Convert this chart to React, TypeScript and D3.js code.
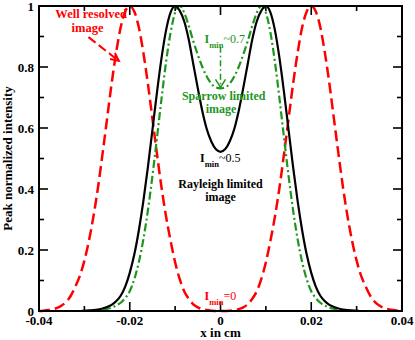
import React, { useRef, useEffect } from 'react';
import * as d3 from 'd3';

// x positions (cm) shared by the three curves
const xGrid = [
  -0.04, -0.039, -0.038, -0.037, -0.036, -0.035, -0.034, -0.033, -0.032, -0.031,
  -0.03, -0.029, -0.028, -0.027, -0.026, -0.025, -0.024, -0.023, -0.022, -0.021,
  -0.02, -0.019, -0.018, -0.017, -0.016, -0.015, -0.014, -0.013, -0.012, -0.011,
  -0.01, -0.009, -0.008, -0.007, -0.006, -0.005, -0.004, -0.003, -0.002, -0.001,
  0,
  0.001, 0.002, 0.003, 0.004, 0.005, 0.006, 0.007, 0.008, 0.009, 0.01,
  0.011, 0.012, 0.013, 0.014, 0.015, 0.016, 0.017, 0.018, 0.019, 0.02,
  0.021, 0.022, 0.023, 0.024, 0.025, 0.026, 0.027, 0.028, 0.029, 0.03,
  0.031, 0.032, 0.033, 0.034, 0.035, 0.036, 0.037, 0.038, 0.039, 0.04,
];

// well resolved (red dashed)
const wellResolved = [
  0, 0.001, 0.003, 0.006, 0.01, 0.018, 0.03, 0.05, 0.08, 0.115,
  0.165, 0.23, 0.31, 0.405, 0.515, 0.63, 0.745, 0.847, 0.93, 0.982,
  1, 0.982, 0.93, 0.847, 0.745, 0.63, 0.515, 0.405, 0.31, 0.23,
  0.16, 0.105, 0.065, 0.04, 0.022, 0.012, 0.006, 0.003, 0.001, 0,
  0,
  0, 0.001, 0.003, 0.006, 0.012, 0.022, 0.04, 0.065, 0.105, 0.16,
  0.23, 0.31, 0.405, 0.515, 0.63, 0.745, 0.847, 0.93, 0.982, 1,
  0.982, 0.93, 0.847, 0.745, 0.63, 0.515, 0.405, 0.31, 0.23, 0.165,
  0.115, 0.08, 0.05, 0.03, 0.018, 0.01, 0.006, 0.003, 0.001, 0,
];

// Rayleigh limited (black solid)
const rayleigh = [
  0, 0, 0, 0, 0, 0, 0, 0, 0, 0,
  0.001, 0.002, 0.003, 0.005, 0.008, 0.013, 0.02, 0.032, 0.05, 0.08,
  0.125, 0.185, 0.264, 0.36, 0.472, 0.594, 0.717, 0.829, 0.92, 0.979,
  1, 0.985, 0.95, 0.89, 0.81, 0.73, 0.655, 0.595, 0.555, 0.53,
  0.522,
  0.53, 0.555, 0.595, 0.655, 0.73, 0.81, 0.89, 0.95, 0.985, 1,
  0.979, 0.92, 0.829, 0.717, 0.594, 0.472, 0.36, 0.264, 0.185, 0.125,
  0.08, 0.05, 0.032, 0.02, 0.013, 0.008, 0.005, 0.003, 0.002, 0.001,
  0, 0, 0, 0, 0, 0, 0, 0, 0, 0,
];

// Sparrow limited (green dash-dot)
const sparrow = [
  0, 0, 0, 0, 0, 0, 0, 0, 0, 0,
  0, 0, 0.001, 0.002, 0.004, 0.007, 0.011, 0.018, 0.027, 0.042,
  0.065, 0.104, 0.16, 0.235, 0.33, 0.443, 0.568, 0.696, 0.816, 0.913,
  0.978, 1, 0.978, 0.935, 0.885, 0.84, 0.8, 0.768, 0.745, 0.733,
  0.73,
  0.733, 0.745, 0.768, 0.8, 0.84, 0.885, 0.935, 0.978, 1, 0.978,
  0.913, 0.816, 0.696, 0.568, 0.443, 0.33, 0.235, 0.16, 0.104, 0.065,
  0.042, 0.027, 0.018, 0.011, 0.007, 0.004, 0.002, 0.001, 0, 0,
  0, 0, 0, 0, 0, 0, 0, 0, 0, 0,
];

const xTicks = [-0.04, -0.02, 0, 0.02, 0.04];
const xTickLabels = ['-0.04', '-0.02', '0', '0.02', '0.04'];
const xMinor = [-0.03, -0.01, 0.01, 0.03];
const yTicks = [0, 0.2, 0.4, 0.6, 0.8, 1];
const yTickLabels = ['0', '0.2', '0.4', '0.6', '0.8', '1'];
const yMinor = [0.1, 0.3, 0.5, 0.7, 0.9];

const RED = '#ff0000';
const GREEN = '#1e961e';
const FONT = "'Liberation Serif', 'Times New Roman', Times, serif";

const App = () => {
  const svgRef = useRef(null);
  const width = 415, height = 340;
  const margin = { top: 6, right: 13, bottom: 29, left: 39 };

  useEffect(() => {
    const svg = d3.select(svgRef.current);
    svg.selectAll('*').remove();

    const x = d3.scaleLinear().domain([-0.04, 0.04]).range([margin.left, width - margin.right]);
    const y = d3.scaleLinear().domain([0, 1]).range([height - margin.bottom, margin.top]);

    const line = (vals) => d3.line()
      .x((d, i) => x(xGrid[i]))
      .y(d => y(d))
      .curve(d3.curveMonotoneX)(vals);

    // curves
    svg.append('path').attr('d', line(wellResolved)).attr('fill', 'none')
      .attr('stroke', RED).attr('stroke-width', 2.5).attr('stroke-dasharray', '11,5');
    svg.append('path').attr('d', line(sparrow)).attr('fill', 'none')
      .attr('stroke', GREEN).attr('stroke-width', 2.2).attr('stroke-dasharray', '8,3,2,3');
    svg.append('path').attr('d', line(rayleigh)).attr('fill', 'none')
      .attr('stroke', '#000').attr('stroke-width', 2.2);

    // frame + ticks
    const x0 = x(-0.04), x1 = x(0.04), y0 = y(0), y1 = y(1);
    const major = 9, minor = 5;
    const tk = svg.append('g').attr('stroke', '#000').attr('stroke-width', 1.6);
    xTicks.forEach(t => {
      tk.append('line').attr('x1', x(t)).attr('x2', x(t)).attr('y1', y0).attr('y2', y0 - major);
      tk.append('line').attr('x1', x(t)).attr('x2', x(t)).attr('y1', y1).attr('y2', y1 + major);
    });
    xMinor.forEach(t => {
      tk.append('line').attr('x1', x(t)).attr('x2', x(t)).attr('y1', y0).attr('y2', y0 - minor);
      tk.append('line').attr('x1', x(t)).attr('x2', x(t)).attr('y1', y1).attr('y2', y1 + minor);
    });
    yTicks.forEach(t => {
      tk.append('line').attr('x1', x0).attr('x2', x0 + major).attr('y1', y(t)).attr('y2', y(t));
      tk.append('line').attr('x1', x1).attr('x2', x1 - major).attr('y1', y(t)).attr('y2', y(t));
    });
    yMinor.forEach(t => {
      tk.append('line').attr('x1', x0).attr('x2', x0 + minor).attr('y1', y(t)).attr('y2', y(t));
      tk.append('line').attr('x1', x1).attr('x2', x1 - minor).attr('y1', y(t)).attr('y2', y(t));
    });
    svg.append('rect').attr('x', x0).attr('y', y1).attr('width', x1 - x0).attr('height', y0 - y1)
      .attr('fill', 'none').attr('stroke', '#000').attr('stroke-width', 2);

    // tick labels
    const lab = svg.append('g').style('font-family', FONT).style('font-weight', 'bold').style('font-size', '13px');
    xTicks.forEach((t, i) => {
      lab.append('text').attr('x', x(t)).attr('y', y0 + 13.5).attr('text-anchor', 'middle').text(xTickLabels[i]);
    });
    yTicks.forEach((t, i) => {
      lab.append('text').attr('x', x0 - 5).attr('y', y(t) + 4.5).attr('text-anchor', 'end').text(yTickLabels[i]);
    });
    lab.append('text').attr('x', x(0)).attr('y', 337).attr('text-anchor', 'middle').text('x in cm');
    lab.append('text').attr('transform', `translate(12,${(y0 + y1) / 2}) rotate(-90)`)
      .attr('text-anchor', 'middle').text('Peak normalized intensity');

    // annotations
    const ann = svg.append('g').style('font-family', FONT).style('font-weight', 'bold').style('font-size', '12px');
    const center = (txt, xv, yv, color, size = 12) =>
      ann.append('text').attr('x', x(xv)).attr('y', y(yv)).attr('text-anchor', 'middle')
        .attr('fill', color).style('font-size', `${size}px`).text(txt);
    center('Well resolved', -0.0285, 0.962, RED, 12.5);
    center('image', -0.0293, 0.915, RED, 12.5);
    center('Sparrow limited', 0.0007, 0.692, GREEN);
    center('image', 0.0001, 0.648, GREEN);
    center('Rayleigh limited', 0.0, 0.403, '#000');
    center('image', 0.0, 0.361, '#000');

    const imin = (xv, yv, rest, color) => {
      const t = ann.append('text').attr('x', x(xv)).attr('y', y(yv)).attr('fill', color);
      t.append('tspan').text('I');
      t.append('tspan').style('font-size', '8.5px').attr('dy', 5).text('min');
      t.append('tspan').style('font-weight', 'normal').attr('dy', -5).text(rest);
    };
    imin(-0.0035, 0.879, '~0.7', GREEN);
    imin(-0.0045, 0.489, '~0.5', '#000');
    imin(-0.0035, 0.036, '=0', RED);

    // red arrow
    const ax0 = x(-0.0291), ay0 = y(0.898), ax1 = x(-0.0224), ay1 = y(0.82);
    svg.append('line').attr('x1', ax0).attr('y1', ay0).attr('x2', ax1).attr('y2', ay1)
      .attr('stroke', RED).attr('stroke-width', 2).attr('stroke-dasharray', '9,4');
    const ang = Math.atan2(ay1 - ay0, ax1 - ax0);
    const head = (len, a) => [ax1 - len * Math.cos(ang + a), ay1 - len * Math.sin(ang + a)];
    const h1 = head(9, 0.45), h2 = head(9, -0.45);
    svg.append('path').attr('d', `M${h1[0]},${h1[1]}L${ax1},${ay1}L${h2[0]},${h2[1]}`)
      .attr('fill', 'none').attr('stroke', RED).attr('stroke-width', 2);

    // green arrow
    const gx = x(0), gy0 = y(0.866), gy1 = y(0.733);
    svg.append('line').attr('x1', gx).attr('y1', gy0).attr('x2', gx).attr('y2', gy1)
      .attr('stroke', GREEN).attr('stroke-width', 1.5).attr('stroke-dasharray', '6,3,1.5,3');
    svg.append('path').attr('d', `M${gx - 5},${gy1 - 8}L${gx},${gy1}L${gx + 5},${gy1 - 8}`)
      .attr('fill', 'none').attr('stroke', GREEN).attr('stroke-width', 1.5);
  }, []);

  return (
    <svg ref={svgRef} width={width} height={height}
      style={{ position: 'absolute', left: 0, top: 0, background: '#fff' }} />
  );
};

export default App;
